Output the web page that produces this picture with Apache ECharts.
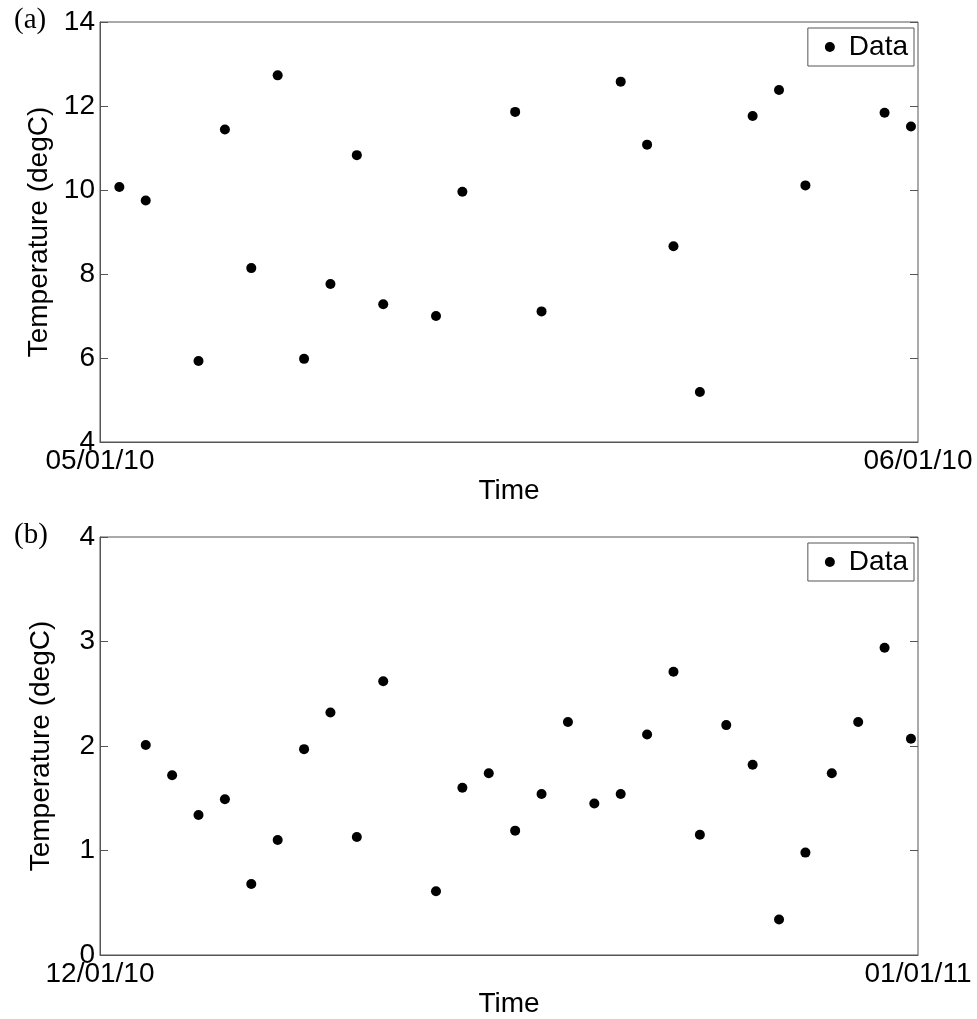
<!DOCTYPE html>
<html>
<head>
<meta charset="utf-8">
<script src="https://cdn.jsdelivr.net/npm/echarts@6/dist/echarts.min.js"></script>
<style>
  html, body { margin: 0; padding: 0; background: #fff; }
  #main { width: 977px; height: 1019px; }
</style>
</head>
<body>
<div id="main"></div>
<script>
// (a) May 2010 - day of month for each reading
const daysA = [1, 2, 4, 5, 6, 7, 8, 9, 10, 11, 13, 14, 16, 17, 20, 21, 22, 23, 25, 26, 27, 30, 31];
const tempA = [10.07, 9.75, 5.93, 11.44, 8.14, 12.73, 5.98, 7.76, 10.83, 7.28, 7.00, 9.96,
               11.86, 7.11, 12.58, 11.08, 8.66, 5.19, 11.76, 12.38, 10.11, 11.84, 11.51];

// (b) December 2010
const daysB = [2, 3, 4, 5, 6, 7, 8, 9, 10, 11, 13, 14, 15, 16, 17, 18, 19, 20, 21, 22,
               23, 24, 25, 26, 27, 28, 29, 30, 31];
const tempB = [2.01, 1.72, 1.34, 1.49, 0.68, 1.10, 1.97, 2.32, 1.13, 2.62, 0.61, 1.60, 1.74,
               1.19, 1.54, 2.23, 1.45, 1.54, 2.11, 2.71, 1.15, 2.20, 1.82, 0.34, 0.98, 1.74,
               2.23, 2.94, 2.07];

const sampleHour = 17.6;   // readings taken late afternoon each day
const xLabelsA = ['05/01/10', '06/01/10'];
const xLabelsB = ['12/01/10', '01/01/11'];
const panelTitles = ['(a)', '(b)'];

const font = 'Liberation Sans';
const fs = 28;
const axisGray = '#555';

function toPoints(days, temps) {
  return days.map((d, i) => [d - 1 + sampleHour / 24, temps[i]]);
}

function xAxisFor(gridIndex, labels) {
  return {
    type: 'value', gridIndex: gridIndex, min: 0, max: 31, interval: 31,
    name: 'Time', nameLocation: 'middle', nameGap: 35,
    nameTextStyle: { fontFamily: font, fontSize: fs, color: '#000' },
    axisLine: { lineStyle: { color: axisGray } },
    axisTick: { show: false },
    splitLine: { show: false },
    axisLabel: {
      fontFamily: font, fontSize: fs, color: '#000', margin: 5,
      formatter: v => (v === 0 ? labels[0] : labels[1])
    }
  };
}

function yAxisFor(gridIndex, min, max, step, right) {
  return {
    type: 'value', gridIndex: gridIndex, min: min, max: max, interval: step,
    position: right ? 'right' : 'left',
    name: right ? '' : 'Temperature (degC)', nameLocation: 'middle', nameGap: 45,
    nameTextStyle: { fontFamily: font, fontSize: fs, color: '#000' },
    axisLine: { show: !right, lineStyle: { color: axisGray } },
    axisTick: { inside: true, length: 8, lineStyle: { color: axisGray } },
    splitLine: { show: false },
    axisLabel: { show: !right, fontFamily: font, fontSize: fs, color: '#000', margin: 5 }
  };
}

function legendFor(top) {
  return {
    right: 63, top: top, orient: 'vertical',
    data: ['Data'],
    icon: 'circle', itemWidth: 10, itemHeight: 10,
    padding: [5, 6, 5, 17],
    borderColor: axisGray, borderWidth: 1, borderRadius: 0,
    backgroundColor: '#fff',
    textStyle: { fontFamily: font, fontSize: fs, color: '#000', padding: [0, 0, 0, 9] }
  };
}

const chart = echarts.init(document.getElementById('main'));

const option = {
  animation: false,
  backgroundColor: '#fff',
  title: panelTitles.map((t, i) => ({
    text: t, left: 9, top: i === 0 ? 1 : 516,
    textStyle: { fontFamily: 'Liberation Serif', fontSize: 29, fontWeight: 'normal', color: '#000' }
  })),
  legend: [legendFor(28), legendFor(543)],
  grid: [
    { left: 100, top: 22, width: 818, height: 420, show: true, borderColor: axisGray, borderWidth: 1 },
    { left: 100, top: 537, width: 818, height: 419, show: true, borderColor: axisGray, borderWidth: 1 }
  ],
  xAxis: [xAxisFor(0, xLabelsA), xAxisFor(1, xLabelsB)],
  yAxis: [
    yAxisFor(0, 4, 14, 2, false),
    yAxisFor(0, 4, 14, 2, true),
    yAxisFor(1, 0, 4, 1, false),
    yAxisFor(1, 0, 4, 1, true)
  ],
  series: [
    {
      name: 'Data', type: 'scatter', xAxisIndex: 0, yAxisIndex: 0,
      symbolSize: 10, itemStyle: { color: '#000', opacity: 1 },
      data: toPoints(daysA, tempA)
    },
    {
      name: 'Data', type: 'scatter', xAxisIndex: 1, yAxisIndex: 2,
      symbolSize: 10, itemStyle: { color: '#000', opacity: 1 },
      data: toPoints(daysB, tempB)
    }
  ]
};

chart.setOption(option);
</script>
</body>
</html>
